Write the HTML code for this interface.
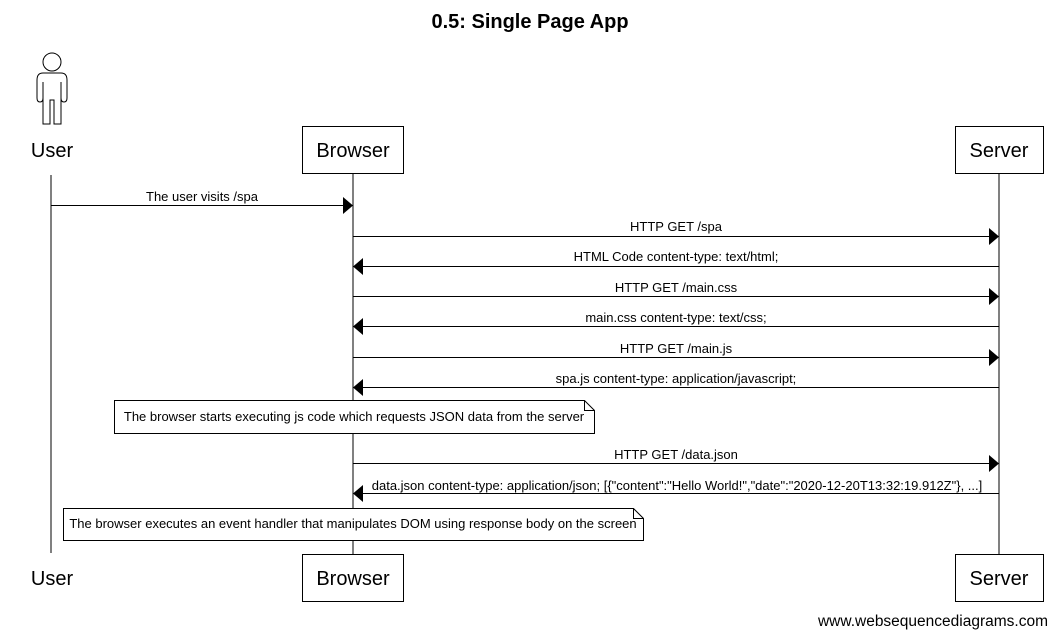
<!DOCTYPE html>
<html><head><meta charset="utf-8"><style>
body{margin:0;background:#fff;}
svg text{font-family:"Liberation Sans",Arial,sans-serif;}
</style></head><body>
<svg width="1058" height="637" xmlns="http://www.w3.org/2000/svg">
<text x="530" y="28" font-size="20" font-weight="bold" text-anchor="middle">0.5: Single Page App</text>
<g fill="none" stroke="#000" stroke-width="1">
<circle cx="52" cy="62" r="9"/>
<path d="M43 73 H61 Q67 73 67 80 V98 Q67 102 64 102 Q61 102 61 98 V82 M61 98 V124 H54 V100 H50 V124 H43 V98 M43 82 V98 Q43 102 40 102 Q37 102 37 98 V80 Q37 73 43 73"/>
<line x1="51" y1="175" x2="51" y2="553"/>
<line x1="353" y1="173" x2="353" y2="555"/>
<line x1="999" y1="173" x2="999" y2="555"/>
<rect x="302.5" y="126.5" width="101" height="47"/>
<rect x="955.5" y="126.5" width="88" height="47"/>
<rect x="302.5" y="554.5" width="101" height="47"/>
<rect x="955.5" y="554.5" width="88" height="47"/>
<line x1="51" y1="205.5" x2="343" y2="205.5"/>
<line x1="353" y1="236.5" x2="989" y2="236.5"/>
<line x1="363" y1="266.5" x2="999" y2="266.5"/>
<line x1="353" y1="296.5" x2="989" y2="296.5"/>
<line x1="363" y1="326.5" x2="999" y2="326.5"/>
<line x1="353" y1="357.5" x2="989" y2="357.5"/>
<line x1="363" y1="387.5" x2="999" y2="387.5"/>
<line x1="353" y1="463.5" x2="989" y2="463.5"/>
<line x1="363" y1="493.5" x2="999" y2="493.5"/>
</g>
<g fill="#000">
<polygon points="343,197 353,205.5 343,214"/>
<polygon points="989,228 999,236.5 989,245"/>
<polygon points="363,258 353,266.5 363,275"/>
<polygon points="989,288 999,296.5 989,305"/>
<polygon points="363,318 353,326.5 363,335"/>
<polygon points="989,349 999,357.5 989,366"/>
<polygon points="363,379 353,387.5 363,396"/>
<polygon points="989,455 999,463.5 989,472"/>
<polygon points="363,485 353,493.5 363,502"/>
</g>
<g fill="#fff" stroke="#000">
<path d="M114.5 400.5 H584.5 L594.5 410.5 V433.5 H114.5 Z"/>
<path d="M584.5 400.5 V410.5 H594.5" fill="none"/>
<path d="M63.5 508.5 H633.5 L643.5 518.5 V540.5 H63.5 Z"/>
<path d="M633.5 508.5 V518.5 H643.5" fill="none"/>
</g>
<g font-size="20" text-anchor="middle">
<text x="52" y="157">User</text><text x="353" y="157">Browser</text><text x="999" y="157">Server</text>
<text x="52" y="585">User</text><text x="353" y="585">Browser</text><text x="999" y="585">Server</text>
</g>
<g font-size="13" text-anchor="middle">
<text x="202" y="201">The user visits /spa</text>
<text x="676" y="231">HTTP GET /spa</text>
<text x="676" y="261">HTML Code content-type: text/html;</text>
<text x="676" y="292">HTTP GET /main.css</text>
<text x="676" y="322">main.css content-type: text/css;</text>
<text x="676" y="353">HTTP GET /main.js</text>
<text x="676" y="383">spa.js content-type: application/javascript;</text>
<text x="676" y="459">HTTP GET /data.json</text>
<text x="677" y="490">data.json content-type: application/json; [{"content":"Hello World!","date":"2020-12-20T13:32:19.912Z"}, ...]</text>
<text x="354" y="421">The browser starts executing js code which requests JSON data from the server</text>
<text x="353" y="528">The browser executes an event handler that manipulates DOM using response body on the screen</text>
</g>
<text x="1048" y="626" font-size="15.5" text-anchor="end">www.websequencediagrams.com</text>
</svg>
</body></html>
